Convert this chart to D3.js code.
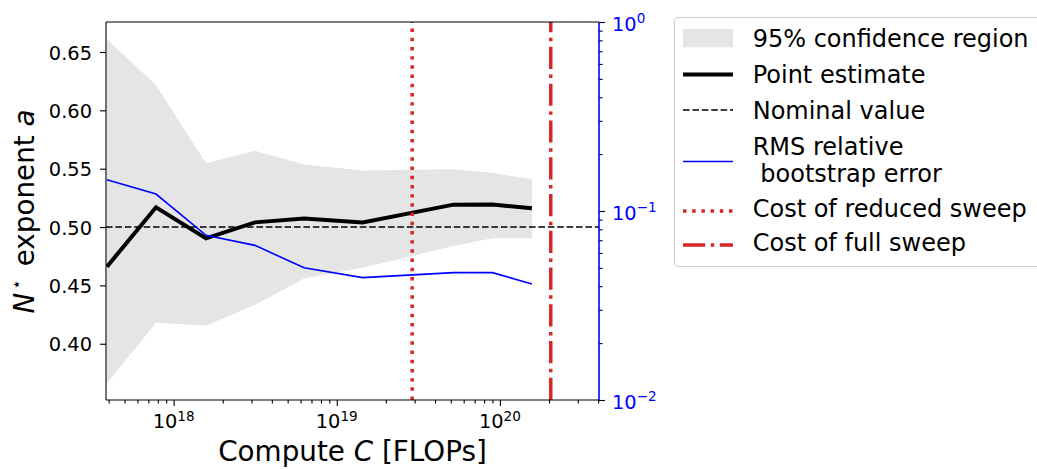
<!DOCTYPE html>
<html>
<head>
<meta charset="utf-8">
<script src="https://cdn.jsdelivr.net/npm/d3@7"></script>
<style>
  body { margin: 0; background: #fff; }
  svg { display: block; }
  text { font-family: "DejaVu Sans", sans-serif; }
</style>
</head>
<body>
<svg id="chart" width="1037" height="469"></svg>
<script>
// Compute budgets (FLOPs) at which the exponent was fitted
const compute = [3.9e17, 7.8e17, 1.58e18, 3.15e18, 6.3e18, 1.44e19, 5.2e19, 9.0e19, 1.57e20];
// Fitted N* exponent a
const pointEstimate = [0.466, 0.5169, 0.4903, 0.504, 0.5073, 0.504, 0.5192, 0.5193, 0.5162];
// 95% confidence bounds
const ciUpper = [0.661, 0.6217, 0.5546, 0.5654, 0.5537, 0.5485, 0.5495, 0.5463, 0.5409];
const ciLower = [0.366, 0.418, 0.4154, 0.4332, 0.456, 0.4651, 0.4837, 0.4903, 0.4903];
// RMS relative bootstrap error (right axis, log)
const rmsError = [0.1464, 0.123, 0.0744, 0.0658, 0.0501, 0.0444, 0.0472, 0.0472, 0.0411];
const nominalValue = 0.5;
const reducedSweepCost = 2.9e19;
const fullSweepCost = 2.05e20;

const leftTicks = [0.40, 0.45, 0.50, 0.55, 0.60, 0.65];
const xMajorExponents = [18, 19, 20];
const rightMajorExponents = [0, -1, -2];
const legendLabels = [
  ["95% confidence region"],
  ["Point estimate"],
  ["Nominal value"],
  ["RMS relative", " bootstrap error"],
  ["Cost of reduced sweep"],
  ["Cost of full sweep"]
];

const svg = d3.select("#chart");
const L = 106, R = 599, T = 22, B = 400;
const RED = "#d62728";

const x = d3.scaleLog().domain([3.85e17, 4.05e20]).range([L, R]);
const y = d3.scaleLinear().domain([0.3518, 0.6757]).range([B, T]);
const y2 = d3.scaleLog().domain([0.01, 1]).range([B, T]);

svg.append("defs").append("clipPath").attr("id", "plot-clip")
  .append("rect").attr("x", L).attr("y", T).attr("width", R - L).attr("height", B - T);

const plot = svg.append("g").attr("clip-path", "url(#plot-clip)");
const idx = d3.range(compute.length);

// Confidence band
plot.append("path")
  .attr("d", d3.area().x(i => x(compute[i])).y0(i => y(ciLower[i])).y1(i => y(ciUpper[i]))(idx))
  .attr("fill", "#e5e5e5");

// Point estimate
plot.append("path")
  .attr("d", d3.line().x(i => x(compute[i])).y(i => y(pointEstimate[i]))(idx))
  .attr("fill", "none").attr("stroke", "#000").attr("stroke-width", 4)
  .attr("stroke-linejoin", "miter");

// Nominal value
plot.append("line")
  .attr("x1", L).attr("x2", R).attr("y1", y(nominalValue)).attr("y2", y(nominalValue))
  .attr("stroke", "#000").attr("stroke-width", 1.6).attr("stroke-dasharray", "6.6,2.8");

// RMS relative bootstrap error
plot.append("path")
  .attr("d", d3.line().x(i => x(compute[i])).y(i => y2(rmsError[i]))(idx))
  .attr("fill", "none").attr("stroke", "#0000ff").attr("stroke-width", 1.6);

// Sweep cost markers (drawn bottom to top)
plot.append("line")
  .attr("x1", x(reducedSweepCost)).attr("x2", x(reducedSweepCost)).attr("y1", B).attr("y2", T)
  .attr("stroke", RED).attr("stroke-width", 3.47).attr("stroke-dasharray", "3.47,5.73");
plot.append("line")
  .attr("x1", x(fullSweepCost)).attr("x2", x(fullSweepCost)).attr("y1", B).attr("y2", T)
  .attr("stroke", RED).attr("stroke-width", 3.47).attr("stroke-dasharray", "22.2,5.55,3.47,5.55");

// Axes
const tickStyle = g => {
  g.select(".domain").remove();
  g.selectAll(".tick line").attr("stroke", "#000").attr("stroke-width", 1.1);
  g.selectAll(".tick text").remove();
};

const xMajor = xMajorExponents.map(e => Math.pow(10, e));
const xMinor = [];
for (let e = 17; e <= 20; e++) for (let m = 2; m <= 9; m++) {
  const v = m * Math.pow(10, e);
  if (v >= x.domain()[0] && v <= x.domain()[1]) xMinor.push(v);
}
svg.append("g").attr("transform", `translate(0,${B})`)
  .call(d3.axisBottom(x).tickValues(xMinor).tickSize(3.5).tickFormat(""))
  .call(tickStyle);
svg.append("g").attr("transform", `translate(0,${B})`)
  .call(d3.axisBottom(x).tickValues(xMajor).tickSize(6).tickFormat(""))
  .call(tickStyle);

svg.append("g").attr("transform", `translate(${L},0)`)
  .call(d3.axisLeft(y).tickValues(leftTicks).tickSize(6).tickFormat(""))
  .call(tickStyle);

const rMajor = rightMajorExponents.map(e => Math.pow(10, e));
const rMinor = [];
for (let e = -2; e < 0; e++) for (let m = 2; m <= 9; m++) rMinor.push(m * Math.pow(10, e));
svg.append("g").attr("transform", `translate(${R},0)`)
  .call(d3.axisRight(y2).tickValues(rMinor).tickSize(3.5).tickFormat(""))
  .call(tickStyle);
svg.append("g").attr("transform", `translate(${R},0)`)
  .call(d3.axisRight(y2).tickValues(rMajor).tickSize(6).tickFormat(""))
  .call(tickStyle);

// Tick labels
svg.append("g").selectAll("text").data(leftTicks).join("text")
  .attr("x", 92).attr("y", d => y(d) + 7.6)
  .attr("text-anchor", "end").attr("font-size", 19.4).attr("fill", "#000")
  .text(d => d.toFixed(2));

const xl = svg.append("g").selectAll("text").data(xMajorExponents).join("text")
  .attr("x", d => x(Math.pow(10, d))).attr("y", 428)
  .attr("text-anchor", "middle").attr("font-size", 19.4).attr("fill", "#000");
xl.append("tspan").text("10");
xl.append("tspan").attr("dy", -7).attr("font-size", 13.6).text(d => String(d));

const rl = svg.append("g").selectAll("text").data(rightMajorExponents).join("text")
  .attr("x", 612).attr("y", d => y2(Math.pow(10, d)) + 8.5)
  .attr("font-size", 19.4).attr("fill", "#0000ff");
rl.append("tspan").text("10");
rl.append("tspan").attr("dy", -8).attr("font-size", 13.6)
  .text(d => (d < 0 ? "\u2212" : "") + Math.abs(d));

// Spines
const spines = svg.append("g").attr("fill", "none");
spines.append("line").attr("x1", L).attr("x2", R).attr("y1", T).attr("y2", T).attr("stroke", "#000").attr("stroke-width", 1.1);
spines.append("line").attr("x1", L).attr("x2", R).attr("y1", B).attr("y2", B).attr("stroke", "#000").attr("stroke-width", 1.1);
spines.append("line").attr("x1", L).attr("x2", L).attr("y1", T).attr("y2", B).attr("stroke", "#000").attr("stroke-width", 1.1);
spines.append("line").attr("x1", R).attr("x2", R).attr("y1", T).attr("y2", B).attr("stroke", "#0000ff").attr("stroke-width", 1.6);

// Axis titles
const xt = svg.append("text").attr("x", (L + R) / 2).attr("y", 461)
  .attr("text-anchor", "middle").attr("font-size", 27.8).attr("fill", "#000");
xt.append("tspan").text("Compute ");
xt.append("tspan").attr("font-style", "italic").text("C");
xt.append("tspan").text(" [FLOPs]");

const yt = svg.append("text").attr("transform", `translate(34,${(T + B) / 2 + 0.5}) rotate(-90)`)
  .attr("text-anchor", "middle").attr("font-size", 27.8).attr("fill", "#000")
  .attr("xml:space", "preserve").style("white-space", "pre");
yt.append("tspan").attr("font-style", "italic").text("N");
yt.append("tspan").attr("dx", 3).attr("dy", -12).attr("font-size", 17).text("\u22C6");
yt.append("tspan").attr("dx", 4).attr("dy", 12).text(" exponent ");
yt.append("tspan").attr("font-style", "italic").text("a");

// Legend
const lg = svg.append("g");
lg.append("rect").attr("x", 674.5).attr("y", 17.5).attr("width", 380).attr("height", 249)
  .attr("rx", 4).attr("fill", "#fff").attr("fill-opacity", 0.8)
  .attr("stroke", "#cccccc").attr("stroke-width", 1.1);

const hx0 = 683, hx1 = 733, tx = 752.7;
const handleY = [38.2, 74.5, 110, 161.5, 211, 245];
const baselines = [[47.3], [82.7], [119.3], [155, 181.7], [217], [250.7]];

lg.append("rect").attr("x", hx0).attr("y", 29).attr("width", hx1 - hx0).attr("height", 18.3).attr("fill", "#e5e5e5");
lg.append("line").attr("x1", hx0).attr("x2", hx1).attr("y1", handleY[1]).attr("y2", handleY[1])
  .attr("stroke", "#000").attr("stroke-width", 4);
lg.append("line").attr("x1", hx0).attr("x2", hx1).attr("y1", handleY[2]).attr("y2", handleY[2])
  .attr("stroke", "#000").attr("stroke-width", 1.6).attr("stroke-dasharray", "6.6,2.8");
lg.append("line").attr("x1", hx0).attr("x2", hx1).attr("y1", handleY[3]).attr("y2", handleY[3])
  .attr("stroke", "#0000ff").attr("stroke-width", 1.6);
lg.append("line").attr("x1", hx0).attr("x2", hx1).attr("y1", handleY[4]).attr("y2", handleY[4])
  .attr("stroke", RED).attr("stroke-width", 3.47).attr("stroke-dasharray", "3.47,5.73");
lg.append("line").attr("x1", hx0).attr("x2", hx1).attr("y1", handleY[5]).attr("y2", handleY[5])
  .attr("stroke", RED).attr("stroke-width", 3.47).attr("stroke-dasharray", "22.2,5.55,3.47,5.55");

legendLabels.forEach((lines, i) => {
  lines.forEach((s, j) => {
    lg.append("text").attr("x", tx).attr("y", baselines[i][j])
      .attr("font-size", 24).attr("fill", "#000")
      .attr("xml:space", "preserve").style("white-space", "pre")
      .text(s);
  });
});
</script>
</body>
</html>
